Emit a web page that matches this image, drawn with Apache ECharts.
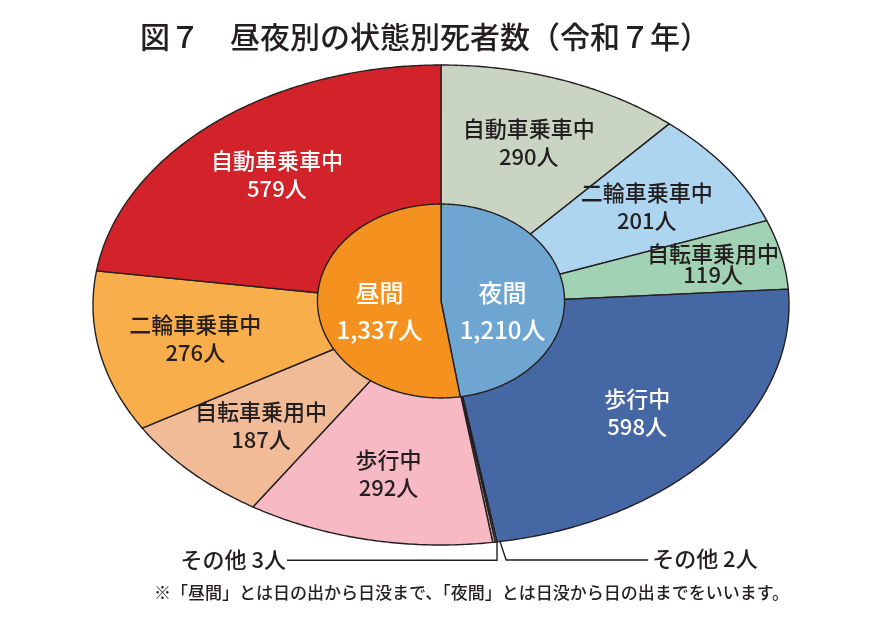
<!DOCTYPE html>
<html>
<head>
<meta charset="utf-8">
<script src="https://cdn.jsdelivr.net/npm/echarts@6/dist/echarts.min.js"></script>
<style>
html,body{margin:0;padding:0;background:#ffffff;}
#chart{width:886px;height:622px;}
</style>
</head>
<body>
<div id="chart"></div>
<script>
// ---- data ----
const titleText = '図７　昼夜別の状態別死者数（令和７年）';
const noteText = '※「昼間」とは日の出から日没まで、「夜間」とは日没から日の出までをいいます。';
const centerLabel = '死者数';
const unit = '人';
// clockwise from 12 o'clock: night first, then day
const nightCats = ['自動車乗車中', '二輪車乗車中', '自転車乗用中', '歩行中', 'その他'];
const nightVals = [290, 201, 119, 598, 2];
const dayCats = ['その他', '歩行中', '自転車乗用中', '二輪車乗車中', '自動車乗車中'];
const dayVals = [3, 292, 187, 276, 579];
const innerCats = ['夜間', '昼間'];
const innerVals = [1210, 1337];

// ---- styles ----
const FONT = '"Noto Sans CJK JP", "Noto Sans", sans-serif';
const WEIGHT = 500;
const INK = '#231f20';
const nightColors = ['#c9d4c2', '#aed5ef', '#a2d2b4', '#4567a4', '#c3b5a7'];
const dayColors = ['#c3b5a7', '#f7b9c4', '#f2bb98', '#f9ae4c', '#d2232b'];
const nightText = [INK, INK, INK, '#ffffff', INK];
const dayText = [INK, INK, INK, INK, '#ffffff'];
const innerColors = ['#6ea6d1', '#f5921f'];

const outerNames = nightCats.concat(dayCats);
const outerVals = nightVals.concat(dayVals);
const outerColors = nightColors.concat(dayColors);
const outerTextColors = nightText.concat(dayText);
const outerSide = nightCats.map(() => 'night').concat(dayCats.map(() => 'day'));

function toAngles(vals) {
  const total = vals.reduce((a, b) => a + b, 0);
  let acc = 0;
  return vals.map(v => {
    const s = acc / total * 360;
    acc += v;
    const e = acc / total * 360;
    return [s, e, v];
  });
}

function sectorPoints(api, s, e, rx, ry, oy) {
  const pts = [api.coord([0, oy])];
  const n = Math.max(2, Math.ceil((e - s) / 0.5));
  for (let k = 0; k <= n; k++) {
    const t = (s + (e - s) * k / n) * Math.PI / 180;
    pts.push(api.coord([rx * Math.sin(t), oy + ry * Math.cos(t)]));
  }
  return pts;
}

function renderOuter(params, api) {
  const i = params.dataIndex;
  const s = api.value(0), e = api.value(1), v = api.value(2);
  const children = [{
    type: 'polygon',
    shape: { points: sectorPoints(api, s, e, 1, 1, 0) },
    style: { fill: outerColors[i], stroke: INK, lineWidth: 1.4, lineJoin: 'round' }
  }];
  const m = (s + e) / 2 * Math.PI / 180;
  if (v >= 20) {
    const narrow = (e - s) < 20;
    const r = narrow ? 0.8 : 0.72;
    const p = api.coord([r * Math.sin(m), r * Math.cos(m)]);
    children.push({
      type: 'text', x: p[0], y: p[1], z2: 10,
      style: {
        text: outerNames[i] + '\n' + v + unit,
        fill: outerTextColors[i], fontSize: 22, fontFamily: FONT, fontWeight: WEIGHT,
        lineHeight: narrow ? 21 : 28, align: 'center', verticalAlign: 'middle'
      }
    });
  } else {
    const p = api.coord([Math.sin(m), Math.cos(m)]);
    const left = outerSide[i] === 'day';
    const yLine = p[1] + 18;
    const pts = left
      ? [[p[0] + 3, p[1]], [p[0] + 3, yLine], [p[0] - 207, yLine]]
      : [[p[0] + 4, p[1]], [p[0] + 10, yLine], [p[0] + 152, yLine]];
    children.push({
      type: 'polyline', z2: 5,
      shape: { points: pts },
      style: { stroke: INK, lineWidth: 1.4, fill: null }
    });
    children.push({
      type: 'text', z2: 10,
      x: left ? p[0] - 208 : p[0] + 156, y: yLine - 1,
      style: {
        text: outerNames[i] + ' ' + v + unit,
        fill: INK, fontSize: 22, fontFamily: FONT, fontWeight: WEIGHT,
        align: left ? 'right' : 'left', verticalAlign: 'middle'
      }
    });
  }
  return { type: 'group', children };
}

const INNER_RX = 0.355, INNER_RY = 0.404, INNER_OY = 0.0167;
function renderInner(params, api) {
  const i = params.dataIndex;
  const s = api.value(0), e = api.value(1), v = api.value(2);
  const m = (s + e) / 2 * Math.PI / 180;
  const c = api.coord([0, INNER_OY]);
  const p = api.coord([0.5 * INNER_RX * Math.sin(m), INNER_OY]);
  return {
    type: 'group',
    children: [{
      type: 'polygon',
      shape: { points: sectorPoints(api, s, e, INNER_RX, INNER_RY, INNER_OY) },
      style: { fill: innerColors[i], stroke: INK, lineWidth: 1.4, lineJoin: 'round' }
    }, {
      type: 'text', x: p[0], y: c[1] + 10, z2: 10,
      style: {
        text: innerCats[i] + '\n' + v.toLocaleString('en-US') + unit,
        fill: '#ffffff', fontSize: 24, fontFamily: FONT, fontWeight: WEIGHT,
        lineHeight: 37, align: 'center', verticalAlign: 'middle'
      }
    }]
  };
}

const chart = echarts.init(document.getElementById('chart'), null, { renderer: 'canvas' });
chart.setOption({
  backgroundColor: '#ffffff',
  animation: false,
  title: [{
    text: titleText, left: 135, top: 17,
    textStyle: { fontSize: 30, fontWeight: WEIGHT, color: INK, fontFamily: FONT }
  }, {
    text: noteText, left: 149, top: 579,
    textStyle: { fontSize: 17, fontWeight: WEIGHT, color: INK, fontFamily: FONT }
  }],
  grid: { left: 93, top: 65, width: 696, height: 480 },
  xAxis: { type: 'value', min: -1, max: 1, show: false },
  yAxis: { type: 'value', min: -1, max: 1, show: false },
  series: [{
    type: 'custom', name: 'outer', clip: false, z: 2,
    renderItem: renderOuter,
    data: toAngles(outerVals)
  }, {
    type: 'custom', name: 'inner', clip: false, z: 3,
    renderItem: renderInner,
    data: toAngles(innerVals)
  }],
  graphic: [{
    type: 'group', left: 368, top: 229, z: 100,
    children: [{
      type: 'rect', shape: { x: 0, y: 0, width: 145, height: 35, r: 17.5 },
      style: { fill: '#fbf29d', stroke: INK, lineWidth: 1.4 }
    }, {
      type: 'text', x: 72.5, y: 18,
      style: { text: centerLabel, fill: INK, fontSize: 26, fontFamily: FONT, fontWeight: WEIGHT, align: 'center', verticalAlign: 'middle' }
    }]
  }]
});
</script>
</body>
</html>
